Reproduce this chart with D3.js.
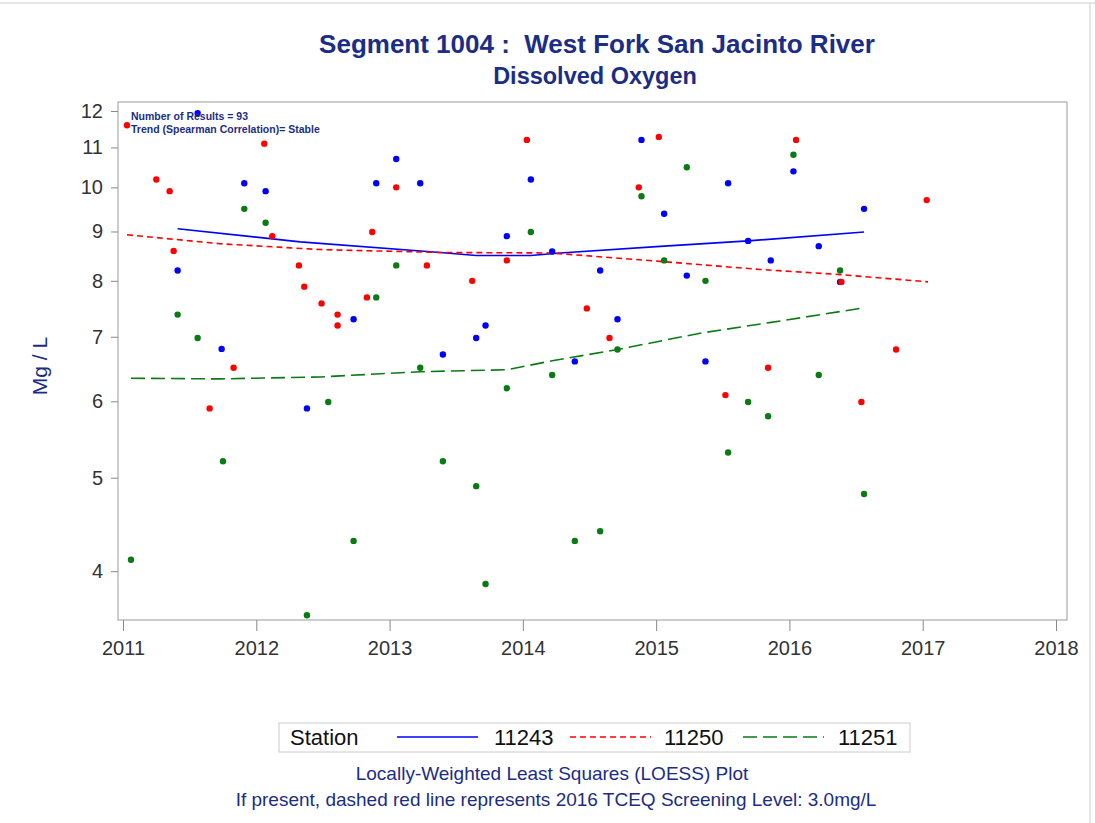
<!DOCTYPE html>
<html>
<head>
<meta charset="utf-8">
<script src="https://cdn.jsdelivr.net/npm/d3@7"></script>
<style>
  body { margin: 0; background: #fff; }
  svg text { font-family: "Liberation Sans", Arial, sans-serif; }
</style>
</head>
<body>
<div id="chart"></div>
<script>
// data (decimal year, mg/L)
const station11243 = [
  [2011.56, 11.94], [2011.41, 8.20], [2011.74, 6.80], [2011.91, 10.10], [2012.07, 9.91],
  [2012.38, 5.90], [2012.73, 7.30], [2012.90, 10.10], [2013.05, 10.70], [2013.23, 10.10],
  [2013.40, 6.71], [2013.65, 6.98], [2013.72, 7.19], [2013.88, 8.90], [2014.06, 10.19],
  [2014.22, 8.58], [2014.39, 6.60], [2014.58, 8.20], [2014.71, 7.30], [2014.89, 11.20],
  [2015.06, 9.39], [2015.23, 8.10], [2015.37, 6.60], [2015.54, 10.10], [2015.69, 8.80],
  [2015.86, 8.40], [2016.03, 10.39], [2016.22, 8.69], [2016.38, 7.98], [2016.56, 9.50]
];
const station11250 = [
  [2011.03, 11.6], [2011.25, 10.19], [2011.35, 9.91], [2011.38, 8.59], [2011.65, 5.90],
  [2011.83, 6.50], [2012.06, 11.10], [2012.12, 8.90], [2012.32, 8.30], [2012.36, 7.89],
  [2012.49, 7.58], [2012.61, 7.38], [2012.61, 7.19], [2012.83, 7.69], [2012.87, 8.99],
  [2013.05, 10.00], [2013.28, 8.30], [2013.62, 8.00], [2013.88, 8.40], [2014.03, 11.20],
  [2014.48, 7.49], [2014.65, 6.98], [2014.87, 10.00], [2015.02, 11.28], [2015.52, 6.09],
  [2015.84, 6.50], [2016.05, 11.20], [2016.39, 7.98], [2016.54, 5.99], [2016.80, 6.79],
  [2017.03, 9.70]
];
const station11251 = [
  [2011.06, 4.11], [2011.41, 7.38], [2011.56, 6.98], [2011.75, 5.20], [2011.91, 9.50],
  [2012.07, 9.19], [2012.38, 3.60], [2012.54, 5.99], [2012.73, 4.30], [2012.90, 7.69],
  [2013.05, 8.30], [2013.23, 6.50], [2013.40, 5.20], [2013.65, 4.90], [2013.72, 3.88],
  [2013.88, 6.19], [2014.06, 8.99], [2014.22, 6.39], [2014.39, 4.30], [2014.58, 4.40],
  [2014.71, 6.79], [2014.89, 9.79], [2015.06, 8.40], [2015.23, 10.49], [2015.37, 8.00],
  [2015.54, 5.31], [2015.69, 5.99], [2015.84, 5.79], [2016.03, 10.81], [2016.22, 6.39],
  [2016.38, 8.20], [2016.56, 4.81]
];

// loess curves, also
const loess11243 = [
  [2011.41, 9.06], [2012.33, 8.78], [2013.38, 8.56], [2013.65, 8.50], [2014.06, 8.50],
  [2014.28, 8.55], [2015.06, 8.69], [2015.69, 8.80], [2016.56, 8.99]
];
const loess11250 = [
  [2011.03, 8.93], [2011.73, 8.74], [2012.48, 8.62], [2013.38, 8.56], [2014.21, 8.55],
  [2015.03, 8.38], [2015.78, 8.22], [2016.38, 8.12], [2017.04, 7.98]
];
const loess11251 = [
  [2011.06, 6.34], [2011.73, 6.33], [2012.48, 6.36], [2013.23, 6.44], [2013.88, 6.47],
  [2014.22, 6.61], [2014.71, 6.79], [2015.33, 7.06], [2015.85, 7.24], [2016.56, 7.50]
];

const yearTicks = [2011, 2012, 2013, 2014, 2015, 2016, 2017, 2018];
const mgTicks = [4, 5, 6, 7, 8, 9, 10, 11, 12];

const stations = [
  { name: "11243", points: station11243, curve: loess11243, color: "#0000ff", dash: null },
  { name: "11250", points: station11250, curve: loess11250, color: "#ff0000", dash: "6,4" },
  { name: "11251", points: station11251, curve: loess11251, color: "#0a7a14", dash: "14,6" }
];

const width = 1095, height = 823;
const navy = "#1b2d84";

const svg = d3.select("#chart").append("svg")
  .attr("width", width)
  .attr("height", height);

// faint page border like the screenshot
svg.append("line").attr("x1", 0).attr("x2", width).attr("y1", 3).attr("y2", 3)
  .attr("stroke", "#ccc");
svg.append("line").attr("x1", 1090).attr("x2", 1090).attr("y1", 3).attr("y2", height)
  .attr("stroke", "#ccc");

// plot frame
const frame = { left: 118, right: 1067, top: 102, bottom: 620 };

const x = d3.scaleLinear()
  .domain([2010.9625, 2018.0825])
  .range([frame.left, frame.right]);

const y = d3.scaleLog()
  .domain([3.56, 12.26])
  .range([frame.bottom, frame.top]);

svg.append("rect")
  .attr("x", frame.left).attr("y", frame.top)
  .attr("width", frame.right - frame.left)
  .attr("height", frame.bottom - frame.top)
  .attr("fill", "none")
  .attr("stroke", "#999");

// axes
const xAxis = svg.append("g")
  .attr("transform", `translate(0,${frame.bottom})`)
  .call(d3.axisBottom(x).tickValues(yearTicks).tickFormat(d3.format("d")).tickSizeOuter(0).tickSize(11).tickPadding(10));

const yAxis = svg.append("g")
  .attr("transform", `translate(${frame.left},0)`)
  .call(d3.axisLeft(y).tickValues(mgTicks).tickFormat(d3.format("d")).tickSizeOuter(0).tickSize(7).tickPadding(8));

[xAxis, yAxis].forEach(g => {
  g.select(".domain").remove();
  g.selectAll(".tick line").attr("stroke", "#888");
  g.selectAll(".tick text")
    .attr("fill", "#333")
    .style("font-size", "20px")
    .style("font-family", "'Liberation Sans', Arial, sans-serif");
});

// loess lines
const line = d3.line()
  .x(d => x(d[0]))
  .y(d => y(d[1]));

svg.append("g").selectAll("path")
  .data(stations)
  .join("path")
  .attr("d", d => line(d.curve))
  .attr("fill", "none")
  .attr("stroke", d => d.color)
  .attr("stroke-width", 1.6)
  .attr("stroke-dasharray", d => d.dash);

// the dots
stations.forEach(s => {
  svg.append("g").selectAll("circle")
    .data(s.points)
    .join("circle")
    .attr("cx", d => x(d[0]))
    .attr("cy", d => y(d[1]))
    .attr("r", 3.2)
    .attr("fill", s.color);
});

// notes in the corner
svg.append("text")
  .attr("x", 131).attr("y", 120)
  .attr("fill", navy)
  .style("font-size", "10.5px").style("font-weight", "bold")
  .text("Number of Results = 93");
svg.append("text")
  .attr("x", 131).attr("y", 133)
  .attr("fill", navy)
  .style("font-size", "10.5px").style("font-weight", "bold")
  .text("Trend (Spearman Correlation)= Stable");

// titles
svg.append("text")
  .attr("x", 597).attr("y", 53)
  .attr("text-anchor", "middle")
  .attr("fill", navy)
  .style("font-size", "26px").style("font-weight", "bold")
  .style("white-space", "pre")
  .text("Segment 1004 :  West Fork San Jacinto River");
svg.append("text")
  .attr("x", 595).attr("y", 84)
  .attr("text-anchor", "middle")
  .attr("fill", navy)
  .style("font-size", "23.5px").style("font-weight", "bold")
  .text("Dissolved Oxygen");

// y label
svg.append("text")
  .attr("transform", "translate(47,366) rotate(-90)")
  .attr("text-anchor", "middle")
  .attr("fill", navy)
  .style("font-size", "21px")
  .text("Mg / L");

// legend
const legend = svg.append("g");
legend.append("rect")
  .attr("x", 279).attr("y", 723)
  .attr("width", 631).attr("height", 29)
  .attr("fill", "#fff")
  .attr("stroke", "#ccc");
legend.append("text")
  .attr("x", 290).attr("y", 745)
  .attr("fill", "#111")
  .style("font-size", "22px")
  .text("Station");

const legendX = [397, 570, 743];
const legendLabelX = [494, 664, 838];
stations.forEach((s, i) => {
  legend.append("line")
    .attr("x1", legendX[i]).attr("x2", legendX[i] + 81)
    .attr("y1", 737).attr("y2", 737)
    .attr("stroke", s.color)
    .attr("stroke-width", 1.6)
    .attr("stroke-dasharray", s.dash);
  legend.append("text")
    .attr("x", legendLabelX[i]).attr("y", 745)
    .attr("fill", "#111")
    .style("font-size", "22px")
    .text(s.name);
});

// footer notes
svg.append("text")
  .attr("x", 552).attr("y", 780)
  .attr("text-anchor", "middle")
  .attr("fill", navy)
  .style("font-size", "19px")
  .text("Locally-Weighted Least Squares (LOESS) Plot");
svg.append("text")
  .attr("x", 556).attr("y", 806)
  .attr("text-anchor", "middle")
  .attr("fill", navy)
  .style("font-size", "19px")
  .text("If present, dashed red line represents 2016 TCEQ Screening Level: 3.0mg/L");
</script>
</body>
</html>
